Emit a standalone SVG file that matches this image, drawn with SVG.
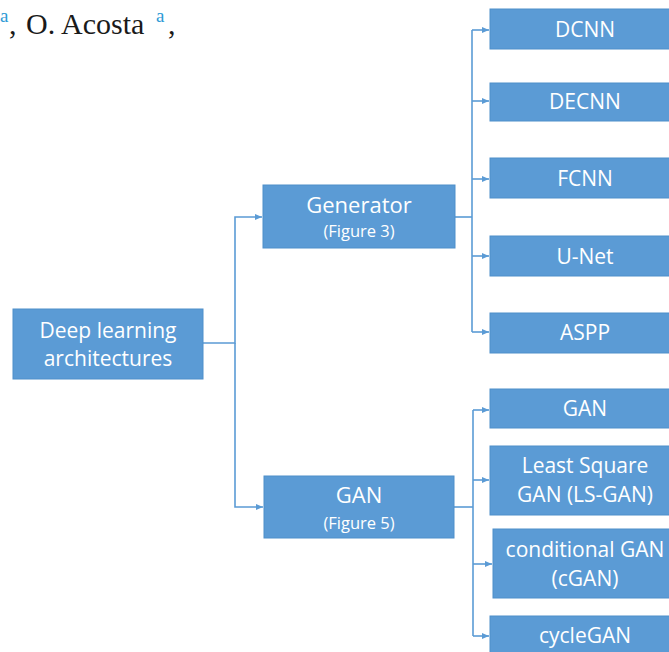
<svg xmlns="http://www.w3.org/2000/svg" width="669" height="652" viewBox="0 0 669 652">
<defs>
<marker id="ah" markerWidth="7" markerHeight="6" refX="7" refY="3" orient="auto" markerUnits="userSpaceOnUse">
<path d="M0,0 L7,3 L0,6 Z" fill="#5b9bd5"/>
</marker>
<style>
.box{fill:#5b9bd5;stroke:#4f8fca;stroke-width:1}
.t{font-family:"Open Sans","Noto Sans",sans-serif;font-size:21px;fill:#ffffff;text-anchor:middle}
.s{font-family:"Open Sans","Noto Sans",sans-serif;font-size:16.5px;fill:#ffffff;text-anchor:middle}
.c{fill:none;stroke:#5b9bd5;stroke-width:1.6}
.hd{font-family:"Liberation Serif","Times New Roman",serif;font-size:30px;fill:#1a1a1a}
.sup{font-family:"Liberation Serif","Times New Roman",serif;font-size:19px;fill:#2d9ad6}
</style>
</defs>
<rect width="669" height="652" fill="#ffffff"/>
<g id="header">
<text class="sup" x="0" y="22">a</text>
<text class="hd" x="9" y="34">,</text>
<text class="hd" x="26" y="34">O. Acosta</text>
<text class="sup" x="156" y="22">a</text>
<text class="hd" x="168" y="34">,</text>
</g>
<g id="connectors">
<path class="c" d="M203,343 H235 V217 H262" marker-end="url(#ah)"/>
<path class="c" d="M235,343 V507 H263" marker-end="url(#ah)"/>
<path class="c" d="M455,217 H472"/>
<path class="c" d="M472,30 V332"/>
<path class="c" d="M472,30 H489" marker-end="url(#ah)"/>
<path class="c" d="M472,101 H489" marker-end="url(#ah)"/>
<path class="c" d="M472,179 H489" marker-end="url(#ah)"/>
<path class="c" d="M472,256 H489" marker-end="url(#ah)"/>
<path class="c" d="M472,332 H489" marker-end="url(#ah)"/>
<path class="c" d="M454,507 H473"/>
<path class="c" d="M473,410 V636"/>
<path class="c" d="M473,410 H489" marker-end="url(#ah)"/>
<path class="c" d="M473,480 H489" marker-end="url(#ah)"/>
<path class="c" d="M473,564 H492" marker-end="url(#ah)"/>
<path class="c" d="M473,636 H489" marker-end="url(#ah)"/>
</g>
<g id="deep-learning">
<rect class="box" x="13" y="309" width="190" height="70"/>
<text class="t" x="108" y="338">Deep learning</text>
<text class="t" x="108" y="366">architectures</text>
</g>
<g id="generator">
<rect class="box" x="263" y="185" width="192" height="63"/>
<text class="t" x="359" y="213" style="font-size:22px">Generator</text>
<text class="s" x="359" y="237">(Figure 3)</text>
</g>
<g id="gan-main">
<rect class="box" x="264" y="476" width="190" height="62"/>
<text class="t" x="359" y="503" style="font-size:22px">GAN</text>
<text class="s" x="359" y="529">(Figure 5)</text>
</g>
<g id="dcnn">
<rect class="box" x="490" y="9" width="190" height="40"/>
<text class="t" x="585" y="37">DCNN</text>
</g>
<g id="decnn">
<rect class="box" x="490" y="83" width="190" height="38"/>
<text class="t" x="585" y="109">DECNN</text>
</g>
<g id="fcnn">
<rect class="box" x="490" y="158" width="190" height="40"/>
<text class="t" x="585" y="186">FCNN</text>
</g>
<g id="unet">
<rect class="box" x="490" y="236" width="190" height="40"/>
<text class="t" x="585" y="264">U-Net</text>
</g>
<g id="aspp">
<rect class="box" x="490" y="313" width="190" height="40"/>
<text class="t" x="585" y="340">ASPP</text>
</g>
<g id="gan">
<rect class="box" x="490" y="389" width="190" height="39"/>
<text class="t" x="585" y="416">GAN</text>
</g>
<g id="lsgan">
<rect class="box" x="490" y="446" width="190" height="69"/>
<text class="t" x="585" y="473">Least Square</text>
<text class="t" x="585" y="502">GAN (LS-GAN)</text>
</g>
<g id="cgan">
<rect class="box" x="493" y="529" width="190" height="69"/>
<text class="t" x="585" y="557">conditional GAN</text>
<text class="t" x="585" y="586">(cGAN)</text>
</g>
<g id="cyclegan">
<rect class="box" x="490" y="616" width="190" height="50"/>
<text class="t" x="585" y="643">cycleGAN</text>
</g>
</svg>
